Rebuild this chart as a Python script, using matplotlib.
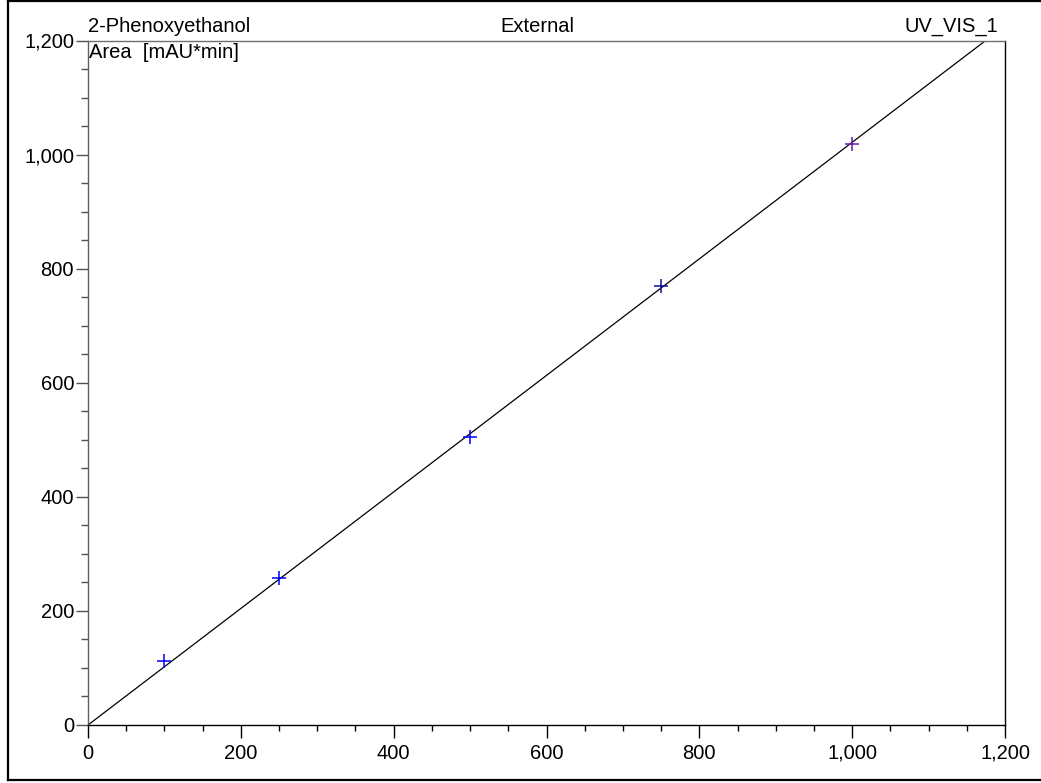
import matplotlib
matplotlib.use("Agg")
import matplotlib.pyplot as plt
from matplotlib.ticker import MultipleLocator, FuncFormatter
from matplotlib.lines import Line2D

plt.rcParams['font.family'] = ['Liberation Sans', 'DejaVu Sans']

# Data
amount = [100, 250, 500, 750, 1000]
area = [112, 257, 505, 769, 1019]
point_colors = ['#0000ff', '#0000ff', '#0000ff', '#10109a', '#6a1ab0']
fit_slope = 1.0215
fit_x = [0, 1200 / fit_slope]
x_ticks = [0, 200, 400, 600, 800, 1000, 1200]
y_ticks = [0, 200, 400, 600, 800, 1000, 1200]

FS = 14.5

fig = plt.figure(figsize=(10.41, 7.83), dpi=100)
ax = fig.add_axes([88 / 1041, 1 - 725 / 783, (1005 - 88) / 1041, (725 - 40.5) / 783])

ax.plot(fit_x, [fit_slope * v for v in fit_x], color='black', lw=0.9, zorder=2)
for xv, yv, c in zip(amount, area, point_colors):
    ax.plot([xv], [yv], marker='+', color=c, markersize=10, mew=1.1, ls='none', zorder=3)

ax.set_xlim(0, 1200)
ax.set_ylim(0, 1200)
ax.set_xticks(x_ticks)
ax.set_yticks(y_ticks)
ax.xaxis.set_minor_locator(MultipleLocator(50))
ax.yaxis.set_minor_locator(MultipleLocator(50))
fmt = FuncFormatter(lambda v, p: f"{v:,.0f}")
ax.xaxis.set_major_formatter(fmt)
ax.yaxis.set_major_formatter(fmt)

ax.tick_params(axis='x', which='major', length=9.5, width=1, pad=4, labelsize=FS, color='black', direction='out')
ax.tick_params(axis='x', which='minor', length=4.5, width=1, color='black', direction='out')
ax.tick_params(axis='y', which='major', length=9, width=1, pad=1, labelsize=FS, color='#505050', direction='out')
ax.tick_params(axis='y', which='minor', length=5, width=1, color='#505050', direction='out')

ax.spines['top'].set_color('#707070')
ax.spines['left'].set_color('#606060')
ax.spines['right'].set_color('black')
ax.spines['bottom'].set_color('black')
for s in ax.spines.values():
    s.set_linewidth(1.0)

ax.text(0.0, 1.0 + 5 / 685, '2-Phenoxyethanol', transform=ax.transAxes, ha='left', va='bottom', fontsize=FS)
ax.text(0.49, 1.0 + 5 / 685, 'External', transform=ax.transAxes, ha='center', va='bottom', fontsize=FS)
ax.text(1.0 - 7 / 917, 1.0 + 5 / 685, 'UV_VIS_1', transform=ax.transAxes, ha='right', va='bottom', fontsize=FS)
ax.text(1 / 917, 1.0 - 3 / 685, 'Area  [mAU*min]', transform=ax.transAxes, ha='left', va='top', fontsize=FS)

# figure border (top, left, bottom)
bw = 1.6
fig.add_artist(Line2D([8 / 1041, 1.0], [1 - 1 / 783, 1 - 1 / 783], transform=fig.transFigure, color='black', lw=bw))
fig.add_artist(Line2D([8 / 1041, 8 / 1041], [1 - 1 / 783, 1 - 780 / 783], transform=fig.transFigure, color='black', lw=bw))
fig.add_artist(Line2D([8 / 1041, 1.0], [1 - 780 / 783, 1 - 780 / 783], transform=fig.transFigure, color='black', lw=bw))

fig.savefig('out.png', dpi=100, facecolor='white')
